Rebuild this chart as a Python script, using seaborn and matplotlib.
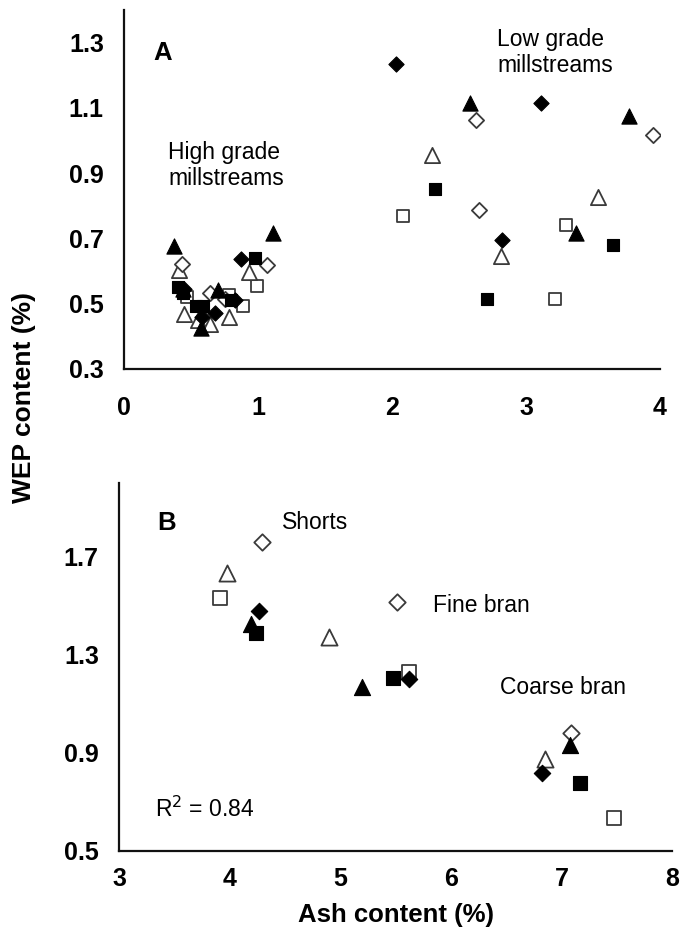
import matplotlib
matplotlib.use("Agg")
import matplotlib.pyplot as plt
import seaborn as sns
import numpy as np

sns.set_style("white")
plt.rcParams['font.family'] = ['Liberation Sans', 'DejaVu Sans']
plt.rcParams['text.color'] = 'black'
plt.rcParams['axes.labelcolor'] = 'black'
plt.rcParams['xtick.color'] = 'black'
plt.rcParams['ytick.color'] = 'black'

# ---------------- Panel A data (Ash content vs WEP content, millstreams) ----------------
a_filled_diamond_x = [0.87, 0.45, 0.83, 0.58, 0.68, 2.03, 3.11, 2.82]
a_filled_diamond_y = [0.638, 0.545, 0.51, 0.46, 0.471, 1.236, 1.115, 0.696]
a_open_diamond_x = [0.43, 1.065, 0.64, 0.75, 2.63, 3.95, 2.65]
a_open_diamond_y = [0.622, 0.619, 0.534, 0.515, 1.064, 1.017, 0.788]
a_filled_triangle_x = [0.37, 1.11, 0.70, 0.575, 0.44, 2.58, 3.77, 3.37]
a_filled_triangle_y = [0.677, 0.716, 0.542, 0.425, 0.545, 1.115, 1.074, 0.716]
a_open_triangle_x = [0.41, 0.93, 0.45, 0.55, 0.64, 0.78, 2.30, 3.535, 2.81]
a_open_triangle_y = [0.604, 0.598, 0.469, 0.45, 0.438, 0.46, 0.956, 0.827, 0.645]
a_filled_square_x = [0.98, 0.40, 0.44, 0.54, 0.59, 0.80, 2.32, 3.65, 2.71]
a_filled_square_y = [0.64, 0.552, 0.532, 0.493, 0.493, 0.51, 0.851, 0.680, 0.514]
a_open_square_x = [0.99, 0.78, 0.885, 0.47, 2.08, 3.30, 3.22]
a_open_square_y = [0.555, 0.527, 0.493, 0.52, 0.770, 0.740, 0.514]

# ---------------- Panel B data (shorts, fine bran, coarse bran) ----------------
b_filled_diamond_x = [4.27, 5.62, 6.825]
b_filled_diamond_y = [1.48, 1.20, 0.816]
b_open_diamond_x = [4.29, 5.51, 7.087]
b_open_diamond_y = [1.759, 1.516, 0.982]
b_filled_triangle_x = [4.19, 5.20, 7.075]
b_filled_triangle_y = [1.425, 1.167, 0.931]
b_open_triangle_x = [3.98, 4.90, 6.855]
b_open_triangle_y = [1.635, 1.371, 0.873]
b_filled_square_x = [4.24, 5.48, 7.17]
b_filled_square_y = [1.387, 1.204, 0.775]
b_open_square_x = [3.91, 5.62, 7.48]
b_open_square_y = [1.53, 1.228, 0.635]

a_xticks = [0, 1, 2, 3, 4]
a_yticks = [0.3, 0.5, 0.7, 0.9, 1.1, 1.3]
b_xticks = [3, 4, 5, 6, 7, 8]
b_yticks = [0.5, 0.9, 1.3, 1.7]

W, H = 681, 941
fig = plt.figure(figsize=(W / 100, H / 100), dpi=100)
fig.patch.set_facecolor("white")

axA = fig.add_axes([124 / W, (H - 369) / H, 536 / W, 359 / H])
axB = fig.add_axes([119 / W, (H - 850.7) / H, 553 / W, 367.4 / H])

OPEN_EDGE = "#3a3a3a"

def draw(ax, series):
    for x, y, marker, filled, size in series:
        if filled:
            sns.scatterplot(x=x, y=y, marker=marker, s=size, color="black",
                            edgecolor="black", linewidth=0.8, ax=ax, zorder=3)
        else:
            sns.scatterplot(x=x, y=y, marker=marker, s=size, facecolor="white",
                            edgecolor=OPEN_EDGE, linewidth=1.3, ax=ax, zorder=3)

SQ, TRI, DIA = 80, 120, 60
draw(axA, [
    (a_open_square_x, a_open_square_y, "s", False, SQ),
    (a_open_triangle_x, a_open_triangle_y, "^", False, TRI),
    (a_open_diamond_x, a_open_diamond_y, "D", False, DIA),
    (a_filled_square_x, a_filled_square_y, "s", True, SQ),
    (a_filled_triangle_x, a_filled_triangle_y, "^", True, TRI),
    (a_filled_diamond_x, a_filled_diamond_y, "D", True, DIA),
])
draw(axB, [
    (b_open_square_x, b_open_square_y, "s", False, SQ + 15),
    (b_open_triangle_x, b_open_triangle_y, "^", False, TRI + 15),
    (b_open_diamond_x, b_open_diamond_y, "D", False, DIA + 10),
    (b_filled_square_x, b_filled_square_y, "s", True, SQ + 15),
    (b_filled_triangle_x, b_filled_triangle_y, "^", True, TRI + 15),
    (b_filled_diamond_x, b_filled_diamond_y, "D", True, DIA + 10),
])

TICK_FS = 18
for ax, xt, yt, xl, yl, xpad in [
    (axA, a_xticks, a_yticks, (0, 4), (0.3, 1.40), 13),
    (axB, b_xticks, b_yticks, (3, 8), (0.5, 2.0), 5),
]:
    ax.set_xlim(*xl)
    ax.set_ylim(*yl)
    ax.set_xticks(xt)
    ax.set_yticks(yt)
    ax.set_xticklabels([str(v) for v in xt])
    ax.set_yticklabels([f"{v:.1f}" for v in yt])
    for side in ["top", "right"]:
        ax.spines[side].set_visible(False)
    for side in ["left", "bottom"]:
        ax.spines[side].set_linewidth(1.6)
        ax.spines[side].set_color("#111111")
    ax.tick_params(axis="both", direction="out", length=6.5, width=1.6,
                   color="#111111", labelcolor="black", labelsize=TICK_FS)
    ax.tick_params(axis="y", pad=8)
    ax.tick_params(axis="x", pad=xpad)
    for lab in ax.get_xticklabels() + ax.get_yticklabels():
        lab.set_fontweight("bold")
    ax.set_facecolor("white")
    ax.set_xlabel("")
    ax.set_ylabel("")

TXT_FS = 16.5
# Panel A annotations
axA.text(0.216, 1.248, "A", fontsize=18.5, fontweight="bold", va="baseline", ha="left", color="black")
axA.text(0.328, 0.944, "High grade", fontsize=TXT_FS, va="baseline", ha="left", color="black")
axA.text(0.328, 0.864, "millstreams", fontsize=TXT_FS, va="baseline", ha="left", color="black")
axA.text(2.784, 1.291, "Low grade", fontsize=TXT_FS, va="baseline", ha="left", color="black")
axA.text(2.784, 1.211, "millstreams", fontsize=TXT_FS, va="baseline", ha="left", color="black")

# Panel B annotations
axB.text(3.344, 1.809, "B", fontsize=18.5, fontweight="bold", va="baseline", ha="left", color="black")
axB.text(4.475, 1.813, "Shorts", fontsize=TXT_FS, va="baseline", ha="left", color="black")
axB.text(5.84, 1.475, "Fine bran", fontsize=TXT_FS, va="baseline", ha="left", color="black")
axB.text(6.448, 1.138, "Coarse bran", fontsize=TXT_FS, va="baseline", ha="left", color="black")
axB.text(3.326, 0.639, "R$^2$ = 0.84", fontsize=TXT_FS, va="baseline", ha="left", color="black")

axB.set_xlabel("Ash content (%)", fontsize=18.5, fontweight="bold", labelpad=9, color="black")
fig.text(24 / W, 1 - 398 / H, "WEP content (%)", fontsize=19, fontweight="bold",
         rotation=90, ha="center", va="center", color="black")

fig.savefig("out.png", dpi=100, facecolor="white")
